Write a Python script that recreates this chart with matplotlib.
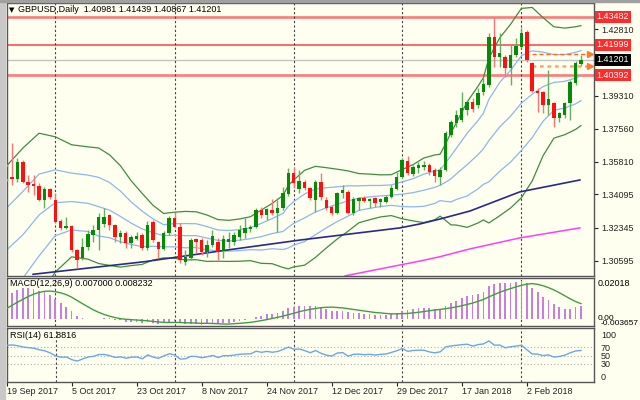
import numpy as np
import matplotlib
matplotlib.use("Agg")
import matplotlib.pyplot as plt
from matplotlib.patches import Rectangle

plt.rcParams['font.family'] = ['Liberation Sans', 'DejaVu Sans']

W, H = 640, 400
BG = '#fffff0'

# daily GBPUSD candles, 19 Sep 2017 .. 16 Feb 2018
opens = [1.3491, 1.3502, 1.3491, 1.3581, 1.3475, 1.3465, 1.3454, 1.3380, 1.3438, 1.3380,
         1.3269, 1.3233, 1.3243, 1.3116, 1.3074, 1.3132, 1.3196, 1.3222, 1.3254, 1.3301,
         1.3248, 1.3185, 1.3206, 1.3153, 1.3174, 1.3196, 1.3127, 1.3264, 1.3159, 1.3122,
         1.3206, 1.3285, 1.3238, 1.3053, 1.3074, 1.3174, 1.3169, 1.3106, 1.3143, 1.3159,
         1.3111, 1.3159, 1.3159, 1.3185, 1.3206, 1.3227, 1.3238, 1.3328, 1.3301, 1.3328,
         1.3312, 1.3338, 1.3412, 1.3523, 1.3438, 1.3475, 1.3444, 1.3380, 1.3475, 1.3380,
         1.3343, 1.3312, 1.3417, 1.3423, 1.3312, 1.3375, 1.3391, 1.3375, 1.3391, 1.3370,
         1.3370, 1.3396, 1.3438, 1.3502, 1.3586, 1.3518, 1.3549, 1.3555, 1.3565, 1.3539,
         1.3502, 1.3539, 1.3724, 1.3787, 1.3803, 1.3856, 1.3898, 1.3882, 1.3951, 1.3988,
         1.4241, 1.4135, 1.4135, 1.4077, 1.4146, 1.4188, 1.4267, 1.4104, 1.3956, 1.3951,
         1.3882, 1.3893, 1.3813, 1.3829, 1.3893, 1.3998, 1.40981]
highs = [1.3570, 1.3681, 1.3602, 1.3592, 1.3512, 1.3512, 1.3470, 1.3449, 1.3444, 1.3417,
         1.3280, 1.3291, 1.3248, 1.3122, 1.3180, 1.3222, 1.3248, 1.3312, 1.3338, 1.3306,
         1.3254, 1.3222, 1.3217, 1.3196, 1.3211, 1.3206, 1.3269, 1.3275, 1.3164, 1.3217,
         1.3296, 1.3317, 1.3259, 1.3116, 1.3180, 1.3180, 1.3180, 1.3169, 1.3222, 1.3180,
         1.3196, 1.3211, 1.3211, 1.3248, 1.3285, 1.3248, 1.3338, 1.3343, 1.3338, 1.3386,
         1.3380, 1.3449, 1.3549, 1.3555, 1.3539, 1.3486, 1.3449, 1.3486, 1.3523, 1.3396,
         1.3354, 1.3423, 1.3460, 1.3433, 1.3396, 1.3396, 1.3402, 1.3391, 1.3396, 1.3391,
         1.3407, 1.3460, 1.3528, 1.3602, 1.3613, 1.3565, 1.3581, 1.3586, 1.3576, 1.3549,
         1.3555, 1.3745, 1.3803, 1.3856, 1.3951, 1.3908, 1.3919, 1.3972, 1.4030, 1.4262,
         1.4347, 1.4262, 1.4146, 1.4199, 1.4236, 1.4289, 1.4278, 1.4109, 1.3972, 1.3956,
         1.4067, 1.3898, 1.3845, 1.3898, 1.4014, 1.4114, 1.41439]
lows = [1.3481, 1.3460, 1.3475, 1.3470, 1.3423, 1.3407, 1.3375, 1.3338, 1.3385, 1.3259,
        1.3222, 1.3227, 1.3106, 1.3021, 1.3064, 1.3116, 1.3159, 1.3116, 1.3238, 1.3222,
        1.3159, 1.3153, 1.3127, 1.3127, 1.3169, 1.3116, 1.3116, 1.3159, 1.3074, 1.3116,
        1.3196, 1.3232, 1.3048, 1.3037, 1.3064, 1.3100, 1.3090, 1.3079, 1.3132, 1.3064,
        1.3074, 1.3127, 1.3143, 1.3169, 1.3180, 1.3211, 1.3232, 1.3285, 1.3275, 1.3301,
        1.3211, 1.3328, 1.3402, 1.3444, 1.3417, 1.3433, 1.3380, 1.3317, 1.3380, 1.3328,
        1.3301, 1.3305, 1.3391, 1.3306, 1.3301, 1.3328, 1.3370, 1.3338, 1.3343, 1.3343,
        1.3364, 1.3391, 1.3433, 1.3496, 1.3512, 1.3507, 1.3523, 1.3539, 1.3512, 1.3475,
        1.3460, 1.3534, 1.3713, 1.3766, 1.3792, 1.3829, 1.3845, 1.3866, 1.3935, 1.3977,
        1.4083, 1.4083, 1.4030, 1.3988, 1.4135, 1.4183, 1.4109, 1.3951, 1.3845, 1.3840,
        1.3829, 1.3766, 1.3792, 1.3813, 1.3803, 1.3988, 1.40867]
closes = [1.3555, 1.3491, 1.3581, 1.3475, 1.3460, 1.3454, 1.3380, 1.3438, 1.3396, 1.3264,
          1.3233, 1.3243, 1.3116, 1.3064, 1.3132, 1.3201, 1.3222, 1.3291, 1.3291, 1.3248,
          1.3185, 1.3206, 1.3153, 1.3185, 1.3190, 1.3127, 1.3248, 1.3169, 1.3122, 1.3206,
          1.3285, 1.3238, 1.3064, 1.3079, 1.3169, 1.3159, 1.3106, 1.3143, 1.3190, 1.3106,
          1.3174, 1.3174, 1.3196, 1.3222, 1.3233, 1.3238, 1.3328, 1.3301, 1.3333, 1.3312,
          1.3338, 1.3417, 1.3523, 1.3470, 1.3481, 1.3444, 1.3391, 1.3475, 1.3396, 1.3338,
          1.3312, 1.3417, 1.3433, 1.3312, 1.3386, 1.3391, 1.3375, 1.3386, 1.3364, 1.3386,
          1.3396, 1.3444, 1.3502, 1.3591, 1.3523, 1.3555, 1.3565, 1.3565, 1.3528, 1.3507,
          1.3539, 1.3734, 1.3792, 1.3829, 1.3866, 1.3898, 1.3861, 1.3945, 1.3993, 1.4241,
          1.4135, 1.4157, 1.4077, 1.4146, 1.4193, 1.4262, 1.4120, 1.3956, 1.3945, 1.3882,
          1.3914, 1.3813, 1.3840, 1.3893, 1.4003, 1.4104, 1.41201]

# bollinger lines sampled at these bars (green = 2 sd, blue = 1 sd + middle)
bb_bars = [0, 3, 6, 9, 12, 15, 17, 19, 21, 23, 25, 27, 29, 31, 33, 35, 37, 39, 41, 43,
           45, 47, 49, 51, 52, 53, 55, 57, 59, 61, 63, 65, 67, 69, 71, 73, 75, 77, 79, 80,
           81, 82, 83, 85, 87, 88, 89, 91, 93, 95, 97, 99, 101, 103, 105, 106]
bb_up2 = [1.3560, 1.3654, 1.3733, 1.3714, 1.3672, 1.3661, 1.3655, 1.3619, 1.3562, 1.3482,
          1.3416, 1.3353, 1.3309, 1.3316, 1.3320, 1.3318, 1.3301, 1.3277, 1.3273, 1.3280,
          1.3292, 1.3327, 1.3362, 1.3404, 1.3457, 1.3486, 1.3537, 1.3558, 1.3551, 1.3543,
          1.3534, 1.3520, 1.3517, 1.3513, 1.3514, 1.3541, 1.3567, 1.3602, 1.3618, 1.3622,
          1.3676, 1.3735, 1.3788, 1.3898, 1.3981, 1.4027, 1.4129, 1.4236, 1.4308, 1.4392,
          1.4397, 1.4343, 1.4295, 1.4288, 1.4295, 1.4301]
bb_up1 = [1.3338, 1.3425, 1.3517, 1.3540, 1.3522, 1.3512, 1.3500, 1.3473, 1.3428, 1.3370,
          1.3322, 1.3281, 1.3250, 1.3255, 1.3256, 1.3255, 1.3240, 1.3222, 1.3219, 1.3224,
          1.3234, 1.3257, 1.3282, 1.3309, 1.3347, 1.3372, 1.3412, 1.3438, 1.3445, 1.3450,
          1.3455, 1.3455, 1.3457, 1.3457, 1.3460, 1.3476, 1.3493, 1.3517, 1.3532, 1.3540,
          1.3575, 1.3614, 1.3653, 1.3733, 1.3800, 1.3839, 1.3911, 1.4001, 1.4065, 1.4142,
          1.4168, 1.4161, 1.4148, 1.4148, 1.4160, 1.4169]
bb_mid = [1.3116, 1.3196, 1.3301, 1.3366, 1.3372, 1.3363, 1.3345, 1.3327, 1.3294, 1.3258,
          1.3228, 1.3208, 1.3192, 1.3194, 1.3192, 1.3192, 1.3179, 1.3167, 1.3164, 1.3168,
          1.3176, 1.3187, 1.3203, 1.3214, 1.3237, 1.3257, 1.3286, 1.3317, 1.3339, 1.3358,
          1.3375, 1.3390, 1.3397, 1.3402, 1.3406, 1.3411, 1.3419, 1.3432, 1.3447, 1.3458,
          1.3474, 1.3492, 1.3518, 1.3567, 1.3620, 1.3651, 1.3694, 1.3766, 1.3823, 1.3892,
          1.3939, 1.3979, 1.4001, 1.4007, 1.4024, 1.4037]
bb_lo1 = [1.2894, 1.2967, 1.3085, 1.3192, 1.3222, 1.3214, 1.3190, 1.3181, 1.3160, 1.3146,
          1.3134, 1.3136, 1.3133, 1.3133, 1.3128, 1.3129, 1.3117, 1.3112, 1.3110, 1.3113,
          1.3118, 1.3116, 1.3123, 1.3119, 1.3127, 1.3142, 1.3161, 1.3197, 1.3233, 1.3266,
          1.3295, 1.3325, 1.3336, 1.3346, 1.3352, 1.3346, 1.3344, 1.3347, 1.3362, 1.3377,
          1.3373, 1.3370, 1.3383, 1.3402, 1.3439, 1.3463, 1.3476, 1.3532, 1.3580, 1.3642,
          1.3710, 1.3796, 1.3854, 1.3866, 1.3888, 1.3905]
bb_lo2 = [1.2672, 1.2738, 1.2869, 1.3000, 1.3080, 1.3068, 1.3045, 1.3035, 1.3026, 1.3034,
          1.3040, 1.3063, 1.3075, 1.3072, 1.3064, 1.3065, 1.3056, 1.3057, 1.3056, 1.3057,
          1.3060, 1.3046, 1.3044, 1.3024, 1.3017, 1.3027, 1.3036, 1.3077, 1.3127, 1.3174,
          1.3215, 1.3260, 1.3276, 1.3291, 1.3298, 1.3281, 1.3270, 1.3261, 1.3276, 1.3295,
          1.3273, 1.3249, 1.3248, 1.3236, 1.3259, 1.3275, 1.3259, 1.3297, 1.3338, 1.3392,
          1.3481, 1.3614, 1.3707, 1.3725, 1.3753, 1.3773]

# slow moving averages
ma100_bars = [4.9, 25.6, 39.4, 54.2, 72.6, 76.3, 80.0, 85.5, 94.7, 105.8]
ma100 = [1.2988, 1.3055, 1.3111, 1.3169, 1.3233, 1.3254, 1.3280, 1.3322, 1.3423, 1.3486]
ma200_bars = [62.5, 76.3, 80.0, 85.5, 94.7, 105.8]
ma200 = [1.2980, 1.3058, 1.3081, 1.3122, 1.3180, 1.3233]

# horizontal levels
red_levels = [1.43482, 1.41999, 1.40392]
bid = 1.41201
arrow_levels = [1.4151, 1.4088]
arrow_start = 97

price_ticks = [1.42810, 1.41060, 1.39310, 1.37560, 1.35810, 1.34095, 1.32345, 1.30595]
month_starts = [9, 31, 53, 73, 95]
date_bars = [0, 12, 24, 36, 48, 60, 72, 84, 96]
date_labels = ['19 Sep 2017', '5 Oct 2017', '23 Oct 2017', '8 Nov 2017', '24 Nov 2017',
               '12 Dec 2017', '29 Dec 2017', '17 Jan 2018', '2 Feb 2018']

macd = [0.0131, 0.0139, 0.0153, 0.0162, 0.0165, 0.0160, 0.0149, 0.0142, 0.0125, 0.0105,
        0.0084, 0.0067, 0.0043, 0.0020, 0.0007, 0.0002, 0.0000, 0.0004, 0.0007, 0.0005,
        -0.0001, -0.0004, -0.0011, -0.0013, -0.0014, -0.0020, -0.0015, -0.0017, -0.0022, -0.0019,
        -0.0011, -0.0007, -0.0019, -0.0026, -0.0024, -0.0023, -0.0027, -0.0026, -0.0022, -0.0025,
        -0.0021, -0.0018, -0.0014, -0.0008, -0.0003, 0.0002, 0.0012, 0.0019, 0.0026, 0.0029,
        0.0034, 0.0043, 0.0059, 0.0066, 0.0072, 0.0072, 0.0068, 0.0070, 0.0065, 0.0056,
        0.0046, 0.0046, 0.0046, 0.0037, 0.0035, 0.0033, 0.0030, 0.0028, 0.0025, 0.0024,
        0.0023, 0.0026, 0.0033, 0.0045, 0.0049, 0.0054, 0.0058, 0.0060, 0.0058, 0.0055,
        0.0054, 0.0068, 0.0083, 0.0096, 0.0109, 0.0120, 0.0125, 0.0134, 0.0143, 0.0172,
        0.0182, 0.0190, 0.0188, 0.0190, 0.0193, 0.0202, 0.0190, 0.0165, 0.0142, 0.0118,
        0.0101, 0.0078, 0.0062, 0.0053, 0.0054, 0.0063, 0.0070]
signal = [0.0057, 0.0073, 0.0089, 0.0104, 0.0119, 0.0131, 0.0140, 0.0146, 0.0147, 0.0144,
          0.0138, 0.0129, 0.0116, 0.0099, 0.0082, 0.0066, 0.0050, 0.0037, 0.0026, 0.0017,
          0.0010, 0.0004, 0.0001, -0.0001, -0.0003, -0.0005, -0.0007, -0.0010, -0.0013, -0.0015,
          -0.0016, -0.0015, -0.0016, -0.0017, -0.0018, -0.0019, -0.0020, -0.0020, -0.0021, -0.0022,
          -0.0024, -0.0024, -0.0022, -0.0020, -0.0018, -0.0015, -0.0011, -0.0006, -0.0001, 0.0005,
          0.0011, 0.0017, 0.0025, 0.0032, 0.0040, 0.0047, 0.0052, 0.0057, 0.0061, 0.0063,
          0.0064, 0.0062, 0.0060, 0.0056, 0.0052, 0.0048, 0.0044, 0.0040, 0.0036, 0.0034,
          0.0031, 0.0029, 0.0029, 0.0030, 0.0031, 0.0034, 0.0037, 0.0041, 0.0045, 0.0049,
          0.0052, 0.0056, 0.0060, 0.0065, 0.0071, 0.0078, 0.0085, 0.0094, 0.0104, 0.0117,
          0.0129, 0.0141, 0.0151, 0.0160, 0.0169, 0.0177, 0.0183, 0.0186, 0.0182, 0.0175,
          0.0165, 0.0153, 0.0139, 0.0123, 0.0107, 0.0093, 0.0082]
rsi = [74, 75, 73, 70, 68.5, 67, 63.5, 61, 56, 49,
       46, 46.4, 40, 37, 42, 46.7, 48.1, 52.4, 52.4, 49.4,
       45.4, 46.9, 43.5, 46.1, 46.5, 42.2, 51.5, 46.2, 43.4, 49.4,
       54.2, 51.1, 41.5, 42.5, 48.2, 47.6, 44.6, 47.1, 50.2, 45.2,
       49.6, 49.6, 51.1, 52.9, 53.6, 54.0, 60.1, 57.6, 59.7, 57.7,
       59.5, 64.5, 69.9, 64.6, 65.2, 61.5, 56.6, 61.8, 55.1, 50.7,
       48.8, 55.9, 56.9, 48.2, 52.9, 53.2, 52.0, 52.8, 51.0, 52.8,
       53.6, 57.3, 61.3, 66.6, 59.9, 61.8, 62.5, 62.5, 58.5, 56.2,
       58.8, 70.2, 72.6, 74.1, 75.5, 76.7, 72.3, 75.7, 77.4, 84.5,
       74.2, 74.8, 68.2, 70.6, 72.2, 74.3, 63.5, 53.7, 53.2, 49.8,
       51.5, 46.2, 47.7, 50.7, 56.3, 60.7, 61.9]


fig = plt.figure(figsize=(6.4, 4.0), dpi=100, facecolor=BG)


def px_axes(x0, y0, x1, y1):
    a = fig.add_axes([x0 / W, 1 - y1 / H, (x1 - x0) / W, (y1 - y0) / H])
    a.set_facecolor(BG)
    for s in a.spines.values():
        s.set_color('#555555')
        s.set_linewidth(1.0)
    a.set_xlim(0.09, 108.4)
    return a


ax = px_axes(7, 3, 594, 276)
ax_m = px_axes(7, 278, 594, 326)
ax_r = px_axes(7, 328, 594, 382)

# window frame bits
fig.patches.append(Rectangle((0, 0), 5 / W, 1, transform=fig.transFigure,
                             color='#c8c8c8', zorder=0))
fig.patches.append(Rectangle((0, 1 - 2 / H), 1, 2 / H, transform=fig.transFigure,
                             color='#a0a0a0', zorder=0))

x = np.arange(len(closes))
o, h, l, c = map(np.array, (opens, highs, lows, closes))
up = c >= o

# ---- main panel
ax.set_ylim(1.2979, 1.44205)
for lev in red_levels:
    if lev == 1.41999:
        ax.axhline(lev, color='#ff4040', lw=1.1, zorder=1)
    else:
        ax.axhline(lev, color='#ff7a7a', lw=1.9, zorder=1)
ax.axhline(bid, color='#c4c4c4', lw=1, zorder=1)

for b in month_starts:
    for a in (ax, ax_m, ax_r):
        a.axvline(b, color='#444444', lw=0.8, ls=(0, (2, 2)), zorder=1)

ax.plot(bb_bars, bb_up2, color='#3e8e3e', lw=0.9, zorder=2)
ax.plot(bb_bars, bb_lo2, color='#3e8e3e', lw=0.9, zorder=2)
for line in (bb_up1, bb_mid, bb_lo1):
    ax.plot(bb_bars, line, color='#8db6f2', lw=0.9, zorder=2)
ax.plot(ma100_bars, ma100, color='#2a2a8e', lw=1.2, zorder=2)
ax.plot(ma200_bars, ma200, color='#ff3cff', lw=1.1, zorder=2)

ax.vlines(x[up], l[up], h[up], color='#62ae62', lw=1.0, zorder=3)
ax.vlines(x[~up], l[~up], h[~up], color='#ff7272', lw=1.0, zorder=3)
body_lo = np.minimum(o, c)
body_h = np.maximum(np.abs(c - o), 0.00018)
ax.bar(x[up], body_h[up], 0.64, body_lo[up], color='#078a07', zorder=4)
ax.bar(x[~up], body_h[~up], 0.64, body_lo[~up], color='#ff1010', zorder=4)

ax.plot([arrow_start, 107.4], [arrow_levels[0]] * 2, color='#ff6a1a', lw=1,
        ls=(0, (3, 2)), zorder=3)
ax.plot([arrow_start, 107.4], [arrow_levels[1]] * 2, color='#ffa56e', lw=1.8,
        ls=(0, (1.5, 1.5)), zorder=3)
ax.plot([107.6, 107.6], arrow_levels, ls='none', marker='>', ms=4,
        color='#ff7a30', zorder=3)

ax.set_xticks([])
ax.yaxis.tick_right()
ax.set_yticks(price_ticks)
# the 1.41060 label sits under the black bid box, only its tick shows
ax.set_yticklabels(['' if v == 1.41060 else '%.5f' % v for v in price_ticks])
ax.tick_params(axis='y', length=3, width=0.8, pad=2, labelsize=6.5, colors='#222222')

ytr = ax.get_yaxis_transform()
for lev in red_levels:
    ax.text(1.0045, lev, '%.5f' % lev, transform=ytr, fontsize=6.5, color='white',
            va='center', ha='left', clip_on=False,
            bbox=dict(boxstyle='square,pad=0.18', fc='#ff2a2a', ec='none'))
ax.text(1.0045, bid, '%.5f' % bid, transform=ytr, fontsize=6.5, color='white',
        va='center', ha='left', clip_on=False,
        bbox=dict(boxstyle='square,pad=0.18', fc='black', ec='none'))

fig.text(9 / W, 1 - 10 / H, '\u25bc', fontsize=5, va='center', family='DejaVu Sans')
fig.text(18 / W, 1 - 10 / H, 'GBPUSD,Daily  1.40981 1.41439 1.40867 1.41201',
         fontsize=6.5, va='center')

# ---- MACD panel
ax_m.set_ylim(-0.0034, 0.0215)
ax_m.bar(x, macd, 0.32, color='#c77ee2', zorder=2)
ax_m.plot(x, signal, color='#3f9f3f', lw=1, zorder=3)
ax_m.set_xticks([])
ax_m.set_yticks([])
fig.text(10 / W, 1 - 284 / H, 'MACD(12,26,9) 0.007000 0.008232', fontsize=6.5, va='center')
fig.text(598 / W, 1 - 283 / H, '0.02018', fontsize=6.5, va='center')
fig.text(598 / W, 1 - 318 / H, '0.00', fontsize=6.0, va='center')
fig.text(601 / W, 1 - 323.5 / H, '-0.003657', fontsize=6.0, va='center')

# ---- RSI panel
ax_r.set_ylim(-12.5, 114.9)
for lev in (70, 50, 30):
    ax_r.axhline(lev, color='#b0b0b0', lw=0.8, ls=(0, (1, 2)), zorder=1)
ax_r.plot(x, rsi, color='#6aa6ea', lw=1, zorder=3)
ax_r.yaxis.tick_right()
ax_r.set_yticks([100, 70, 50, 30, 0])
ax_r.set_yticklabels(['100', '70', '50', '30', '0'])
ax_r.tick_params(axis='y', length=0, pad=5, labelsize=6.5, colors='#222222')
fig.text(10 / W, 1 - 336 / H, 'RSI(14) 61.8816', fontsize=6.5, va='center')

ax_r.set_xticks(date_bars)
ax_r.set_xticklabels(date_labels, ha='left')
ax_r.tick_params(axis='x', length=3, width=0.8, pad=0.5, labelsize=6.5, colors='#222222')

fig.savefig('out.png', dpi=100, facecolor=BG)
